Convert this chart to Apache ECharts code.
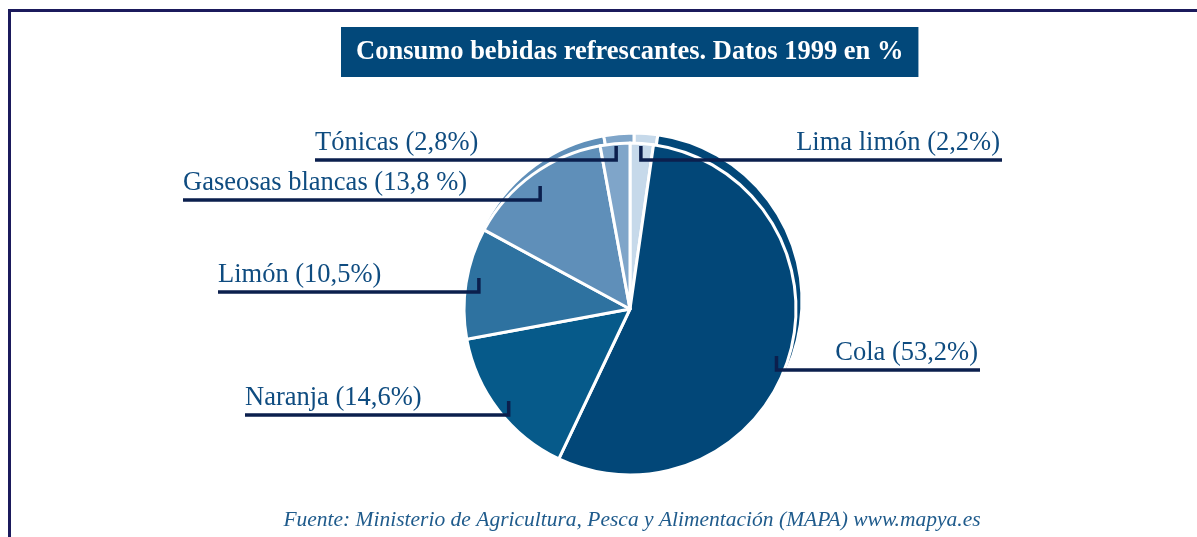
<!DOCTYPE html>
<html>
<head>
<meta charset="utf-8">
<script src="https://cdn.jsdelivr.net/npm/echarts@6/dist/echarts.min.js"></script>
<style>
html, body { margin: 0; padding: 0; background: #fff; }
#chart { width: 1197px; height: 537px; }
</style>
</head>
<body>
<div id="chart"></div>
<script>
// datos del gráfico (orden: desde arriba en sentido horario)
var categories = ['Lima limón', 'Cola', 'Naranja', 'Limón', 'Gaseosas blancas', 'Tónicas'];
var values = [2.2, 53.2, 14.6, 10.5, 13.8, 2.8];
var labelTexts = ['Lima limón (2,2%)', 'Cola (53,2%)', 'Naranja (14,6%)', 'Limón (10,5%)', 'Gaseosas blancas (13,8 %)', 'Tónicas (2,8%)'];

var colors = ['#c6d9ea', '#024778', '#065a8a', '#2e72a0', '#5f8fb9', '#7fa5c9'];

// posicion de las etiquetas (linea subrayada)
var cx = 630, cy = 309, R = 166;
var lineY = [160, 370, 415, 292, 200, 160];
var lineEnd = [1002, 980, 245, 218, 183, 315];

var total = 0;
for (var i = 0; i < values.length; i++) total += values[i];

function tickX(idx) {
	var cum = 0;
	for (var k = 0; k < idx; k++) cum += values[k];
	var ang = (90 - (cum + values[idx] / 2) / total * 360) * Math.PI / 180;
	return cx + 153 * Math.cos(ang);
}

var pieData = [];
var labelData = [];
for (var j = 0; j < categories.length; j++) {
	pieData.push({ name: categories[j], value: values[j], itemStyle: { color: colors[j] } });
	labelData.push({ name: categories[j], value: values[j] });
}

var myChart = echarts.init(document.getElementById('chart'));
var option = {
	backgroundColor: '#fff',
	animation: false,
	title: {
		text: 'Consumo bebidas refrescantes. Datos 1999 en %',
		left: 341,
		top: 27,
		backgroundColor: '#02487a',
		padding: [10, 15, 10, 15],
		textStyle: {
			color: '#fff',
			fontFamily: 'Liberation Serif',
			fontWeight: 'bold',
			fontSize: 26.5,
			lineHeight: 30
		}
	},
	graphic: [
		{
			type: 'rect',
			z: -1,
			shape: { x: 9.5, y: 10.5, width: 1500, height: 800 },
			style: { fill: 'none', stroke: '#1b1a5c', lineWidth: 3 }
		},
		{
			type: 'text',
			x: 632,
			y: 520,
			style: {
				text: 'Fuente: Ministerio de Agricultura, Pesca y Alimentación (MAPA) www.mapya.es',
				font: 'italic 21.5px "Liberation Serif"',
				fill: '#1f5b8c',
				textAlign: 'center',
				textVerticalAlign: 'middle'
			}
		}
	],
	series: [
		{
			// borde "3D" detras
			type: 'pie',
			silent: true,
			z: 1,
			center: [634, 301],
			radius: 168,
			startAngle: 90,
			clockwise: true,
			label: { show: false },
			labelLine: { show: false },
			itemStyle: { borderColor: '#fff', borderWidth: 3 },
			data: pieData
		},
		{
			type: 'pie',
			z: 2,
			center: [cx, cy],
			radius: R,
			startAngle: 90,
			clockwise: true,
			label: { show: false },
			labelLine: { show: false },
			itemStyle: { borderColor: '#fff', borderWidth: 3 },
			data: pieData
		},
		{
			// etiquetas encima de las porciones
			type: 'pie',
			silent: true,
			z: 5,
			center: [cx, cy],
			radius: R,
			startAngle: 90,
			clockwise: true,
			avoidLabelOverlap: false,
			itemStyle: { color: 'rgba(0,0,0,0)' },
			label: {
				show: true,
				formatter: function (p) { return labelTexts[p.dataIndex]; },
				color: '#0f4c80',
				fontFamily: 'Liberation Serif',
				fontSize: 26.5,
				lineHeight: 28
			},
			labelLine: {
				show: true,
				lineStyle: { color: '#0b1f4d', width: 3.5 }
			},
			labelLayout: function (params) {
				var i = params.dataIndex;
				var tx = tickX(i);
				var right = tx > cx;
				return {
					x: right ? lineEnd[i] - 2 : lineEnd[i],
					y: lineY[i] - 3,
					align: right ? 'right' : 'left',
					verticalAlign: 'bottom',
					labelLinePoints: [[tx, lineY[i] - 14], [tx, lineY[i]], [lineEnd[i], lineY[i]]]
				};
			},
			data: labelData
		}
	]
};
myChart.setOption(option);
</script>
</body>
</html>
